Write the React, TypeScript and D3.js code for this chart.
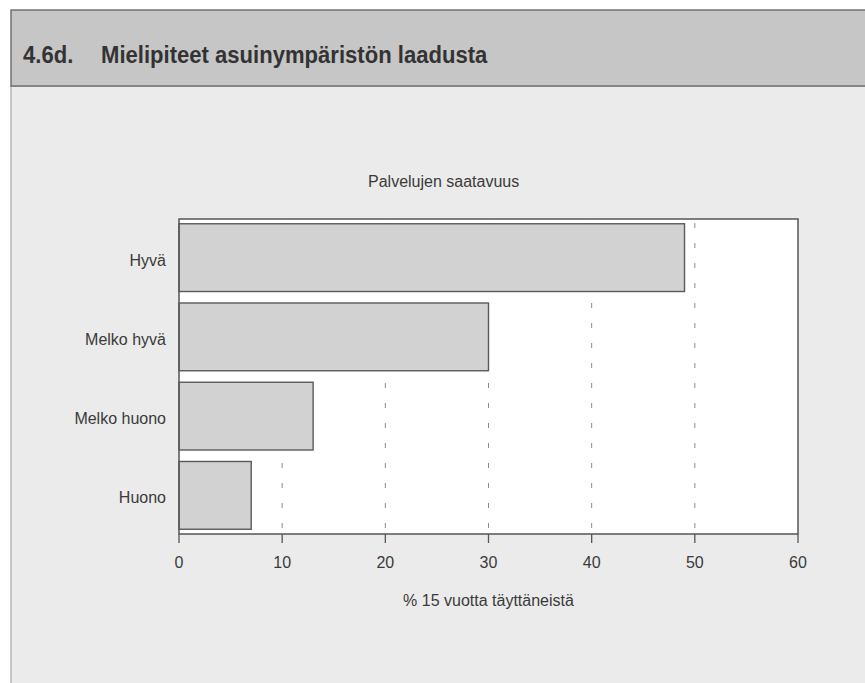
import React from "react";
import * as d3 from "d3";

const categories: string[] = ["Hyvä", "Melko hyvä", "Melko huono", "Huono"];
const values: number[] = [49, 30, 13, 7];
const xTicks: number[] = [0, 10, 20, 30, 40, 50, 60];
const headerNumber = "4.6d.";
const headerTitle = "Mielipiteet asuinympäristön laadusta";
const chartTitle = "Palvelujen saatavuus";
const xLabel = "% 15 vuotta täyttäneistä";

const W = 865;
const H = 683;
const plot = { left: 179, right: 798, top: 219, bottom: 534 };
const FONT = "'Liberation Sans', Arial, Helvetica, sans-serif";
const TEXT = "#3a3a3a";

export default function App() {
  const x = d3.scaleLinear().domain([0, 60]).range([plot.left, plot.right]);
  const y = d3
    .scaleBand<string>()
    .domain(categories)
    .range([plot.top, plot.bottom])
    .paddingInner(0.145)
    .paddingOuter(0.06);

  return (
    <div style={{ position: "absolute", left: 0, top: 0 }}>
      <svg width={W} height={H} viewBox={`0 0 ${W} ${H}`} style={{ display: "block" }}>
        <rect x={0} y={0} width={W} height={H} fill="#ffffff" />
        {/* panel body */}
        <rect x={11} y={86} width={W} height={H} fill="#ebebeb" stroke="#a8a8a8" strokeWidth={1.2} />
        {/* header band */}
        <rect x={11} y={10} width={W} height={76} fill="#c6c6c6" stroke="#6a6a6a" strokeWidth={1.4} />
        <text
          transform="translate(23,62.5) scale(0.92,1)"
          fontFamily={FONT}
          fontWeight="bold"
          fontSize={24}
          fill="#333"
        >
          {headerNumber}
        </text>
        <text
          transform="translate(101,62.5) scale(0.92,1)"
          fontFamily={FONT}
          fontWeight="bold"
          fontSize={24}
          fill="#333"
        >
          {headerTitle}
        </text>

        {/* chart title */}
        <text x={368} y={187} fontFamily={FONT} fontSize={16} fill={TEXT}>
          {chartTitle}
        </text>

        {/* plot area */}
        <rect
          x={plot.left}
          y={plot.top}
          width={plot.right - plot.left}
          height={plot.bottom - plot.top}
          fill="#ffffff"
        />
        {/* gridlines */}
        {xTicks.slice(1, -1).map((t) => (
          <line
            key={"g" + t}
            x1={x(t)}
            x2={x(t)}
            y1={plot.top + 4}
            y2={plot.bottom}
            stroke="#8a8a8a"
            strokeWidth={1}
            strokeDasharray="5,15"
          />
        ))}
        {/* bars */}
        {categories.map((c, i) => (
          <rect
            key={c}
            x={x(0)}
            y={y(c)!}
            width={x(values[i]) - x(0)}
            height={y.bandwidth()}
            fill="#d2d2d2"
            stroke="#5a5a5a"
            strokeWidth={1.4}
          />
        ))}
        {/* frame */}
        <rect
          x={plot.left}
          y={plot.top}
          width={plot.right - plot.left}
          height={plot.bottom - plot.top}
          fill="none"
          stroke="#555"
          strokeWidth={1.5}
        />
        {/* category labels */}
        {categories.map((c) => (
          <text
            key={"l" + c}
            x={166}
            y={y(c)! + y.bandwidth() / 2}
            dy="0.5em"
            textAnchor="end"
            fontFamily={FONT}
            fontSize={16}
            fill={TEXT}
          >
            {c}
          </text>
        ))}
        {/* x ticks */}
        {xTicks.map((t) => (
          <g key={"t" + t}>
            <line x1={x(t)} x2={x(t)} y1={plot.bottom} y2={plot.bottom + 9} stroke="#555" strokeWidth={1.3} />
            <text
              x={x(t)}
              y={568}
              textAnchor="middle"
              fontFamily={FONT}
              fontSize={16}
              fill={TEXT}
            >
              {t}
            </text>
          </g>
        ))}
        <text
          x={(plot.left + plot.right) / 2}
          y={606}
          textAnchor="middle"
          fontFamily={FONT}
          fontSize={16}
          fill={TEXT}
        >
          {xLabel}
        </text>
      </svg>
    </div>
  );
}
